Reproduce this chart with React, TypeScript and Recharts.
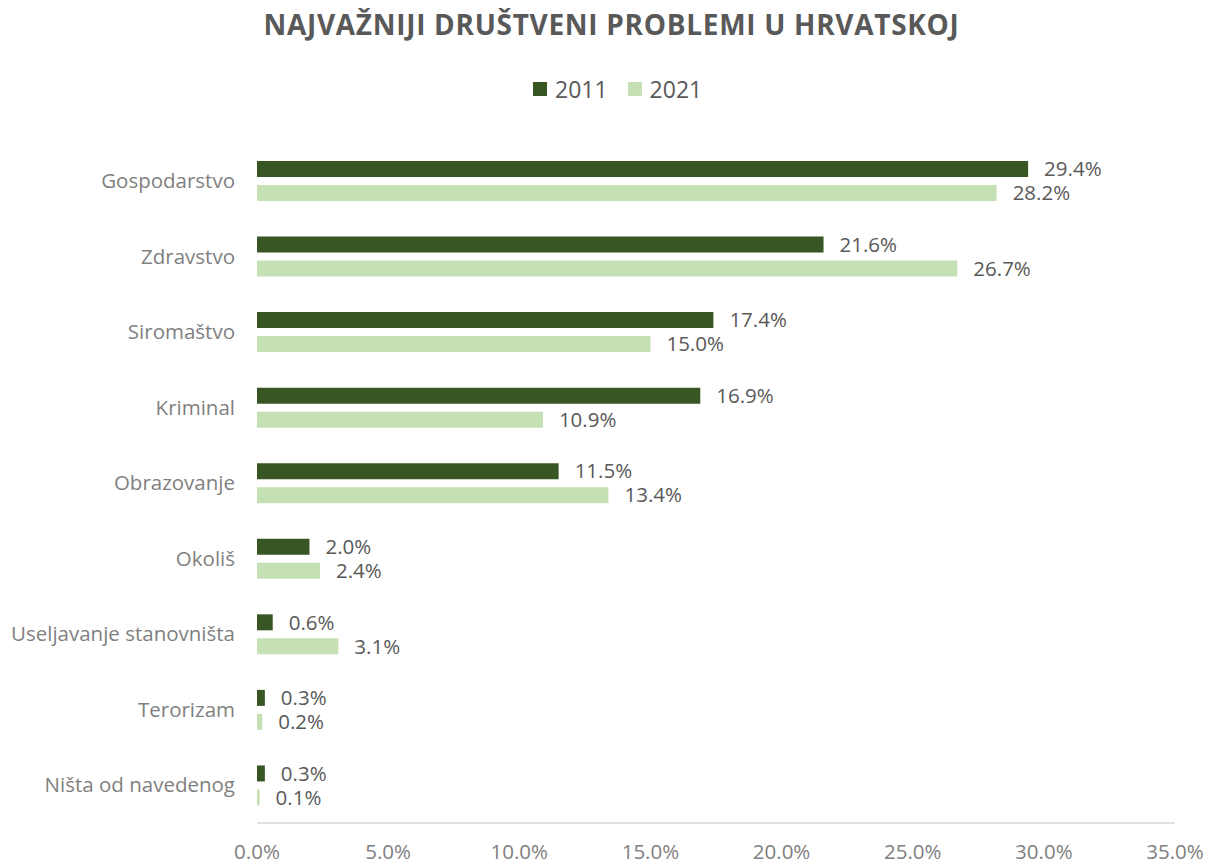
import React from 'react';
import { BarChart, Bar, XAxis, YAxis, LabelList } from 'recharts';

const categories = [
  'Gospodarstvo',
  'Zdravstvo',
  'Siromaštvo',
  'Kriminal',
  'Obrazovanje',
  'Okoliš',
  'Useljavanje stanovništa',
  'Terorizam',
  'Ništa od navedenog',
];
const values2011 = [29.4, 21.6, 17.4, 16.9, 11.5, 2.0, 0.6, 0.3, 0.3];
const values2021 = [28.2, 26.7, 15.0, 10.9, 13.4, 2.4, 3.1, 0.2, 0.1];
const xTicks = [0, 5, 10, 15, 20, 25, 30, 35];
const seriesNames = ['2011', '2021'];

const data = categories.map((name, i) => ({
  name,
  y2011: values2011[i],
  y2021: values2021[i],
}));

const FONT = '"Open Sans", sans-serif';
const DARK = '#375623';
const LIGHT = '#C5E0B4';
const colors = [DARK, LIGHT];

const fmt = (v: number) => `${Number(v).toFixed(1)}%`;

export default function App() {
  return (
    <div style={{ position: 'absolute', left: 0, top: 0, width: 1209, height: 865, background: '#fff' }}>
      <div
        style={{
          position: 'absolute',
          top: 4,
          left: 0,
          width: 1209,
          textAlign: 'center',
          fontFamily: FONT,
          fontWeight: 700,
          fontSize: 28,
          letterSpacing: 0.7,
          color: '#595959',
          lineHeight: '40px',
          paddingLeft: 14,
          boxSizing: 'border-box',
        }}
      >
        NAJVAŽNIJI DRUŠTVENI PROBLEMI U HRVATSKOJ
      </div>
      <div
        style={{
          position: 'absolute',
          top: 72,
          left: 533,
          height: 34,
          display: 'flex',
          alignItems: 'center',
          fontFamily: FONT,
        }}
      >
        {seriesNames.map((n, i) => (
          <div key={n} style={{ display: 'flex', alignItems: 'center', marginRight: i === 0 ? 20 : 0 }}>
            <span style={{ display: 'inline-block', width: 14, height: 14, background: colors[i], marginRight: 8 }} />
            <span style={{ fontSize: 23, color: '#595959', lineHeight: '34px' }}>{n}</span>
          </div>
        ))}
      </div>
      <BarChart
        width={1209}
        height={865}
        data={data}
        layout="vertical"
        margin={{ top: 143, right: 34, bottom: 12, left: 0 }}
        barSize={16}
        barGap={8}
      >
        <XAxis
          type="number"
          domain={[0, 35]}
          ticks={xTicks}
          tickFormatter={fmt}
          height={30}
          axisLine={{ stroke: '#d9d9d9', strokeWidth: 1.5 }}
          tickLine={false}
          tickSize={0}
          tickMargin={21}
          tick={{ fill: '#7f7f7f', fontSize: 20.5, fontFamily: FONT }}
          interval={0}
        />
        <YAxis
          type="category"
          dataKey="name"
          width={257}
          axisLine={false}
          tickLine={false}
          tickSize={0}
          tickMargin={22}
          tick={{ fill: '#7f7f7f', fontSize: 20.5, fontFamily: FONT }}
          interval={0}
        />
        <Bar dataKey="y2011" name={seriesNames[0]} fill={DARK} isAnimationActive={false}>
          <LabelList
            dataKey="y2011"
            position="right"
            offset={16}
            formatter={(v: any) => fmt(v)}
            style={{ fill: '#595959', fontSize: 20.5, fontFamily: FONT }}
          />
        </Bar>
        <Bar dataKey="y2021" name={seriesNames[1]} fill={LIGHT} isAnimationActive={false}>
          <LabelList
            dataKey="y2021"
            position="right"
            offset={16}
            formatter={(v: any) => fmt(v)}
            style={{ fill: '#595959', fontSize: 20.5, fontFamily: FONT }}
          />
        </Bar>
      </BarChart>
    </div>
  );
}
